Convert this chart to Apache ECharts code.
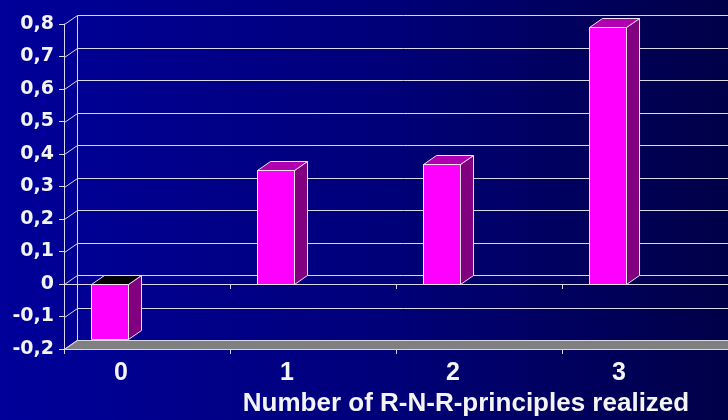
<!DOCTYPE html>
<html>
<head>
<meta charset="utf-8">
<script src="https://cdn.jsdelivr.net/npm/echarts@6/dist/echarts.min.js"></script>
<style>
  html, body { margin: 0; padding: 0; background: #000080; }
  #chart { width: 728px; height: 420px; }
</style>
</head>
<body>
<div id="chart"></div>
<script>
// Effect size by number of R-N-R principles realized
const categories = ['0', '1', '2', '3'];
const effectValues = [-0.17, 0.35, 0.37, 0.79];
const yTicks = [-0.2, -0.1, 0, 0.1, 0.2, 0.3, 0.4, 0.5, 0.6, 0.7, 0.8];
const axisTitle = 'Number of R-N-R-principles realized';

// pseudo-3D depth of walls and bars
const DEPTH_X = 13;
const DEPTH_Y = -9;
const LINE = '#d8d8e8';
const px = v => Math.round(v) + 0.5;

function renderFrame(params, api) {
  const cs = params.coordSys;
  const left = cs.x;
  const right = cs.x + cs.width + 40;
  const yBottom = px(api.coord([0, yTicks[0]])[1]);
  const yTop = px(api.coord([0, yTicks[yTicks.length - 1]])[1]);
  const children = [];
  // floor
  children.push({
    type: 'polygon',
    shape: { points: [[left, yBottom], [right, yBottom], [right + DEPTH_X, yBottom + DEPTH_Y], [left + DEPTH_X, yBottom + DEPTH_Y]] },
    style: { fill: '#808080', stroke: LINE, lineWidth: 1 }
  });
  yTicks.forEach((t, k) => {
    const y = px(api.coord([0, t])[1]);
    // side wall diagonals
    children.push({
      type: 'line',
      shape: { x1: px(left), y1: y, x2: px(left + DEPTH_X), y2: y + DEPTH_Y },
      style: { stroke: LINE, lineWidth: 1 }
    });
    // back wall gridlines
    if (k > 0) {
      children.push({
        type: 'line',
        shape: { x1: px(left + DEPTH_X), y1: y + DEPTH_Y, x2: right + DEPTH_X, y2: y + DEPTH_Y },
        style: { stroke: LINE, lineWidth: 1 }
      });
    }
  });
  // back corner edge
  children.push({
    type: 'line',
    shape: { x1: px(left + DEPTH_X), y1: yTop + DEPTH_Y, x2: px(left + DEPTH_X), y2: yBottom + DEPTH_Y },
    style: { stroke: LINE, lineWidth: 1 }
  });
  return { type: 'group', children };
}

function renderBar(params, api) {
  const i = api.value(0);
  const v = api.value(1);
  const band = api.size([1, 0])[0];
  const base = api.coord([i, 0]);
  const end = api.coord([i, v]);
  const w = band * 0.223;
  const cx = base[0] - band * 0.223;
  const x0 = Math.round(cx - w / 2) + 0.5;
  const x1 = Math.round(cx + w / 2) + 0.5;
  const yHi = px(Math.min(base[1], end[1]));
  const yLo = px(Math.max(base[1], end[1]));
  const edge = { stroke: '#f0e0f0', lineWidth: 1 };
  return {
    type: 'group',
    children: [
      {
        type: 'polygon',
        shape: { points: [[x1, yHi], [x1 + DEPTH_X, yHi + DEPTH_Y], [x1 + DEPTH_X, yLo + DEPTH_Y], [x1, yLo]] },
        style: Object.assign({ fill: '#800080' }, edge)
      },
      {
        type: 'polygon',
        shape: { points: [[x0, yHi], [x0 + DEPTH_X, yHi + DEPTH_Y], [x1 + DEPTH_X, yHi + DEPTH_Y], [x1, yHi]] },
        style: Object.assign({ fill: v >= 0 ? '#b000b0' : '#000000' }, edge)
      },
      {
        type: 'rect',
        shape: { x: x0, y: yHi, width: x1 - x0, height: yLo - yHi },
        style: Object.assign({ fill: '#ff00ff' }, edge)
      }
    ]
  };
}

const chart = echarts.init(document.getElementById('chart'), null, { renderer: 'canvas' });
chart.setOption({
  animation: false,
  backgroundColor: {
    type: 'linear', x: 0, y: 0, x2: 1, y2: 0,
    colorStops: [
      { offset: 0, color: '#00009a' },
      { offset: 0.5, color: '#00007c' },
      { offset: 1, color: '#000048' }
    ]
  },
  grid: { left: 64, right: 0, top: 24, bottom: 71, containLabel: false },
  xAxis: [
    {
      type: 'category',
      data: categories,
      position: 'bottom',
      boundaryGap: true,
      axisLine: { onZero: false, lineStyle: { color: LINE, width: 1 } },
      axisTick: { show: true, length: 5, lineStyle: { color: LINE } },
      axisLabel: {
        color: '#f4f4f4',
        fontFamily: 'Liberation Sans',
        fontWeight: 'bold',
        fontSize: 25,
        lineHeight: 25,
        margin: 12,
        padding: [0, 52, 0, 0]
      },
      splitLine: { show: false }
    },
    {
      type: 'category',
      data: categories,
      position: 'bottom',
      boundaryGap: true,
      axisLine: { onZero: true, lineStyle: { color: LINE, width: 1 } },
      axisTick: { show: true, length: 5, lineStyle: { color: LINE } },
      axisLabel: { show: false },
      splitLine: { show: false }
    }
  ],
  yAxis: {
    type: 'value',
    min: yTicks[0],
    max: yTicks[yTicks.length - 1],
    interval: 0.1,
    axisLine: { show: true, lineStyle: { color: LINE, width: 1 } },
    axisTick: { show: true, length: 5, lineStyle: { color: LINE } },
    axisLabel: {
      color: '#f4f4f4',
      fontFamily: 'DejaVu Sans',
      fontWeight: 'bold',
      fontSize: 19,
      margin: 10,
      formatter: v => String(+v.toFixed(1)).replace('.', ',')
    },
    splitLine: { show: false }
  },
  graphic: [
    {
      type: 'text',
      x: 466,
      y: 404,
      style: {
        text: axisTitle,
        fill: '#f4f4f4',
        font: 'bold 26px "Liberation Sans", Arial, sans-serif',
        align: 'center',
        verticalAlign: 'middle'
      }
    }
  ],
  series: [
    {
      type: 'custom',
      name: 'frame',
      z: 1,
      clip: false,
      silent: true,
      data: [[0, 0]],
      renderItem: renderFrame
    },
    {
      type: 'custom',
      name: 'effect',
      z: 3,
      clip: false,
      data: effectValues.map((v, i) => [i, v]),
      renderItem: renderBar
    }
  ]
});
</script>
</body>
</html>
